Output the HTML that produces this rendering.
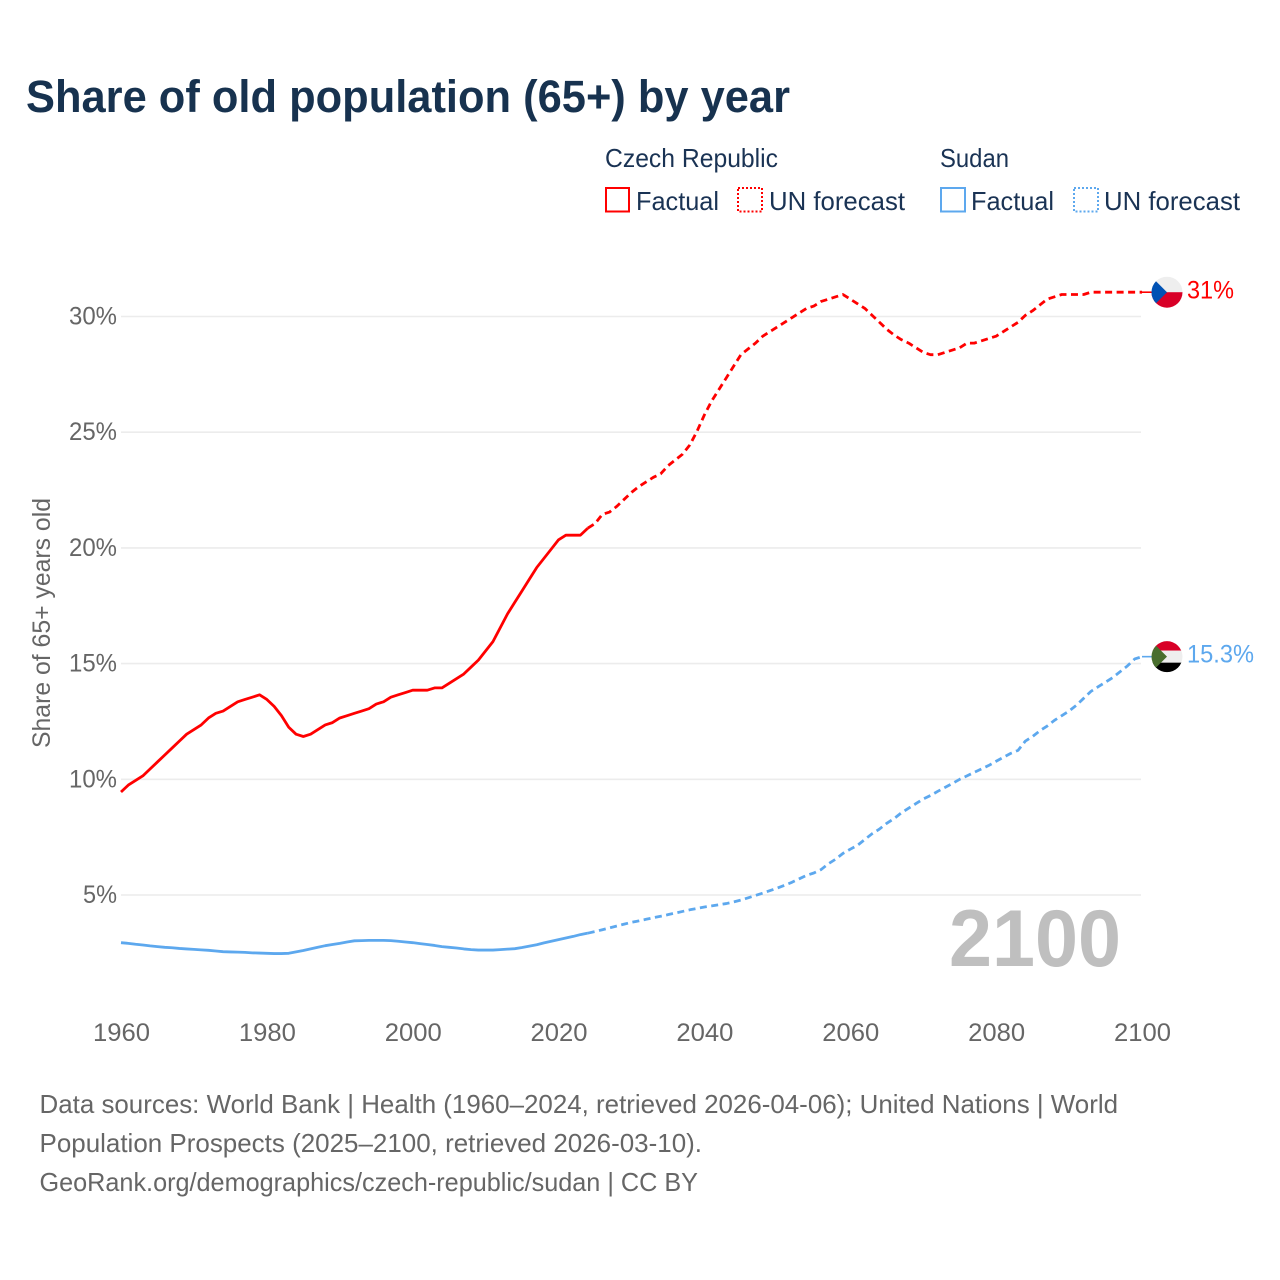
<!DOCTYPE html>
<html lang="en">
<head>
<meta charset="utf-8">
<title>Share of old population (65+) by year</title>
<style>
html,body{margin:0;padding:0;background:#fff;}
svg{display:block;font-family:"Liberation Sans",sans-serif;}
</style>
</head>
<body>
<svg id="chart" width="1280" height="1280" viewBox="0 0 1280 1280" xmlns="http://www.w3.org/2000/svg">
<defs>
<clipPath id="flag-clip-cz"><circle cx="0" cy="0" r="15.5"></circle></clipPath>
<clipPath id="flag-clip-sd"><circle cx="0" cy="0" r="15.5"></circle></clipPath>
</defs>
<rect x="0" y="0" width="1280" height="1280" fill="#ffffff"></rect>
<text x="26" y="112" font-size="45" font-weight="700" fill="#17324f" textLength="764" lengthAdjust="spacingAndGlyphs">Share of old population (65+) by year</text>

<g font-size="26" fill="#1a3354">
<text x="605" y="167" textLength="173" lengthAdjust="spacingAndGlyphs">Czech Republic</text>
<text x="940" y="167" textLength="69" lengthAdjust="spacingAndGlyphs">Sudan</text>
<rect x="606" y="188" width="23" height="23.5" fill="none" stroke="#ff0000" stroke-width="2"></rect>
<text x="636" y="210" textLength="83" lengthAdjust="spacingAndGlyphs">Factual</text>
<rect x="738" y="188" width="24" height="23.5" fill="none" stroke="#ff0000" stroke-width="2" stroke-dasharray="2 2"></rect>
<text x="769" y="210" textLength="136" lengthAdjust="spacingAndGlyphs">UN forecast</text>
<rect x="941" y="188" width="24" height="23.5" fill="none" stroke="#5da8ee" stroke-width="2"></rect>
<text x="971" y="210" textLength="83" lengthAdjust="spacingAndGlyphs">Factual</text>
<rect x="1074" y="188" width="24" height="23.5" fill="none" stroke="#5da8ee" stroke-width="2" stroke-dasharray="2 2"></rect>
<text x="1104" y="210" textLength="136" lengthAdjust="spacingAndGlyphs">UN forecast</text>
</g>

<g id="grid"></g>
<g id="y-ticks"></g>
<g id="x-ticks"></g>
<text transform="translate(50,623) rotate(-90)" text-anchor="middle" font-size="25" fill="#666666" textLength="250" lengthAdjust="spacingAndGlyphs">Share of 65+ years old</text>
<text x="949" y="966" font-size="81" font-weight="700" fill="#bfbfbf" textLength="172" lengthAdjust="spacingAndGlyphs">2100</text>
<g id="series"></g>
<g id="end-markers"></g>

<g font-size="26" fill="#666666">
<text x="39.5" y="1113" textLength="1078.5" lengthAdjust="spacingAndGlyphs">Data sources: World Bank | Health (1960–2024, retrieved 2026-04-06); United Nations | World</text>
<text x="39.5" y="1152" textLength="662.5" lengthAdjust="spacingAndGlyphs">Population Prospects (2025–2100, retrieved 2026-03-10).</text>
<text x="39.5" y="1191" textLength="658.5" lengthAdjust="spacingAndGlyphs">GeoRank.org/demographics/czech-republic/sudan | CC BY</text>
</g>
</svg>
<script>
const factualYears = [1960,1961,1962,1963,1964,1965,1966,1967,1968,1969,1970,1971,1972,1973,1974,1975,1976,1977,1978,1979,1980,1981,1982,1983,1984,1985,1986,1987,1988,1989,1990,1991,1992,1993,1994,1995,1996,1997,1998,1999,2000,2001,2002,2003,2004,2005,2006,2007,2008,2009,2010,2011,2012,2013,2014,2015,2016,2017,2018,2019,2020,2021,2022,2023,2024];
const forecastYears = [2024,2025,2026,2027,2028,2029,2030,2031,2032,2033,2034,2035,2036,2037,2038,2039,2040,2041,2042,2043,2044,2045,2046,2047,2048,2049,2050,2051,2052,2053,2054,2055,2056,2057,2058,2059,2060,2061,2062,2063,2064,2065,2066,2067,2068,2069,2070,2071,2072,2073,2074,2075,2076,2077,2078,2079,2080,2081,2082,2083,2084,2085,2086,2087,2088,2089,2090,2091,2092,2093,2094,2095,2096,2097,2098,2099,2100];
const czechFactual = [9.45,9.75,9.95,10.15,10.45,10.75,11.05,11.35,11.65,11.95,12.15,12.35,12.65,12.85,12.95,13.15,13.35,13.45,13.55,13.65,13.45,13.15,12.75,12.25,11.95,11.85,11.95,12.15,12.35,12.45,12.65,12.75,12.85,12.95,13.05,13.25,13.35,13.55,13.65,13.75,13.85,13.85,13.85,13.95,13.95,14.15,14.35,14.55,14.85,15.15,15.55,15.95,16.55,17.15,17.65,18.15,18.65,19.15,19.55,19.95,20.35,20.55,20.55,20.55,20.85];
const czechForecast = [20.85,21.05,21.45,21.55,21.8,22.1,22.4,22.65,22.85,23.05,23.2,23.55,23.8,24.05,24.45,25.05,25.75,26.35,26.85,27.35,27.85,28.35,28.6,28.85,29.15,29.35,29.55,29.75,29.95,30.15,30.35,30.45,30.65,30.75,30.85,30.95,30.75,30.55,30.35,30.05,29.75,29.45,29.2,29.0,28.85,28.65,28.45,28.35,28.35,28.45,28.55,28.65,28.85,28.85,28.95,29.05,29.15,29.35,29.55,29.75,30.05,30.25,30.5,30.75,30.85,30.95,30.95,30.95,30.95,31.05,31.05,31.05,31.05,31.05,31.05,31.05,31.05];
const sudanFactual = [2.94,2.91,2.87,2.84,2.8,2.77,2.74,2.72,2.69,2.67,2.65,2.63,2.61,2.58,2.55,2.54,2.53,2.52,2.5,2.49,2.48,2.47,2.47,2.48,2.54,2.6,2.67,2.74,2.81,2.86,2.91,2.97,3.02,3.03,3.04,3.04,3.04,3.03,3.0,2.97,2.94,2.9,2.86,2.82,2.77,2.74,2.71,2.67,2.64,2.62,2.62,2.62,2.64,2.66,2.68,2.73,2.79,2.85,2.93,3.0,3.07,3.14,3.21,3.29,3.35];
const sudanForecast = [3.35,3.42,3.5,3.58,3.66,3.74,3.82,3.88,3.95,4.02,4.08,4.15,4.22,4.29,4.36,4.42,4.48,4.53,4.58,4.63,4.7,4.78,4.88,4.98,5.08,5.19,5.3,5.42,5.55,5.7,5.85,5.95,6.1,6.35,6.55,6.8,6.98,7.15,7.4,7.65,7.85,8.1,8.3,8.55,8.75,8.95,9.15,9.3,9.48,9.65,9.82,10.0,10.15,10.3,10.45,10.6,10.78,10.95,11.12,11.25,11.65,11.85,12.1,12.3,12.55,12.75,12.95,13.2,13.5,13.8,14.0,14.2,14.4,14.65,14.9,15.2,15.3];
const yTickValues = [5,10,15,20,25,30];
const yTickLabels = ["5%","10%","15%","20%","25%","30%"];
const xTickValues = [1960,1980,2000,2020,2040,2060,2080,2100];
const xTickLabels = ["1960","1980","2000","2020","2040","2060","2080","2100"];
const endLabelCzech = "31%";
const endLabelSudan = "15.3%";

const NS = "http://www.w3.org/2000/svg";
const RED = "#ff0000";
const BLUE = "#5da8ee";
function xScale(year) { return 121 + (year - 1960) * (1142 - 121) / 140; }
function yScale(value) { return 1010.7 - value * 23.14; }
function svgEl(tag, parent) {
  const el = document.createElementNS(NS, tag);
  parent.appendChild(el);
  return el;
}
function pathFrom(years, values) {
  return values.map(function (v, i) {
    return (i ? "L" : "M") + xScale(years[i]).toFixed(2) + " " + yScale(v).toFixed(2);
  }).join(" ");
}

const gridGroup = document.getElementById("grid");
const yGroup = document.getElementById("y-ticks");
const xGroup = document.getElementById("x-ticks");
const seriesGroup = document.getElementById("series");
const markerGroup = document.getElementById("end-markers");

yTickValues.forEach(function (v, i) {
  const line = svgEl("line", gridGroup);
  
  
  line.setAttribute("x1", 121);
  line.setAttribute("x2", 1141);
  line.setAttribute("y1", yScale(v));
  line.setAttribute("y2", yScale(v));
  line.setAttribute("stroke", "#ececec");
  line.setAttribute("stroke-width", 1.6);
  const label = svgEl("text", yGroup);
  
  
  label.setAttribute("x", 117);
  label.setAttribute("y", yScale(v) + 8);
  label.setAttribute("text-anchor", "end");
  label.setAttribute("font-size", 25);
  label.setAttribute("fill", "#666666");
  label.setAttribute("textLength", yTickLabels[i].length === 2 ? 34 : 48);
  label.setAttribute("lengthAdjust", "spacingAndGlyphs");
  label.textContent = yTickLabels[i];
});

xTickValues.forEach(function (v, i) {
  const label = svgEl("text", xGroup);
  
  
  label.setAttribute("x", xScale(v) + 0.5);
  label.setAttribute("y", 1041);
  label.setAttribute("text-anchor", "middle");
  label.setAttribute("font-size", 25);
  label.setAttribute("fill", "#666666");
  label.setAttribute("textLength", 57);
  label.setAttribute("lengthAdjust", "spacingAndGlyphs");
  label.textContent = xTickLabels[i];
});

function drawLine(name, years, values, color, dashed) {
  const p = svgEl("path", seriesGroup);
  
  
  p.setAttribute("d", pathFrom(years, values));
  p.setAttribute("fill", "none");
  p.setAttribute("stroke", color);
  p.setAttribute("stroke-width", 2.8);
  p.setAttribute("stroke-linejoin", "round");
  if (dashed) p.setAttribute("stroke-dasharray", "7 4.5");
}
drawLine("czech-factual-line", factualYears, czechFactual, RED, false);
drawLine("czech-forecast-line", forecastYears, czechForecast, RED, true);
drawLine("sudan-factual-line", factualYears, sudanFactual, BLUE, false);
drawLine("sudan-forecast-line", forecastYears, sudanForecast, BLUE, true);

function drawLeader(name, value, color) {
  const l = svgEl("line", seriesGroup);
  
  
  l.setAttribute("x1", xScale(2100));
  l.setAttribute("x2", 1153);
  l.setAttribute("y1", yScale(value));
  l.setAttribute("y2", yScale(value));
  l.setAttribute("stroke", color);
  l.setAttribute("stroke-width", 1.6);
}
drawLeader("czech-end-leader", czechForecast[czechForecast.length - 1], RED);
drawLeader("sudan-end-leader", sudanForecast[sudanForecast.length - 1], BLUE);

function shape(parent, tag, attrs) {
  const el = svgEl(tag, parent);
  Object.keys(attrs).forEach(function (k) { el.setAttribute(k, attrs[k]); });
  return el;
}

const czY = yScale(czechForecast[czechForecast.length - 1]);
const czFlag = svgEl("g", markerGroup);


czFlag.setAttribute("transform", "translate(1167," + czY + ")");
const czClip = svgEl("g", czFlag);
czClip.setAttribute("clip-path", "url(#flag-clip-cz)");
shape(czClip, "rect", {x:-16,y:-16,width:32,height:16,fill:"#eeeeee"});
shape(czClip, "rect", {x:-16,y:0,width:32,height:16,fill:"#d80027"});
shape(czClip, "polygon", {points:"-16,-16 0,0 -16,16",fill:"#0052b4"});

const czLabel = svgEl("text", markerGroup);


czLabel.setAttribute("x", 1187);
czLabel.setAttribute("y", czY + 6.5);
czLabel.setAttribute("font-size", 25);
czLabel.setAttribute("fill", RED);
czLabel.setAttribute("textLength", 47);
czLabel.setAttribute("lengthAdjust", "spacingAndGlyphs");
czLabel.textContent = endLabelCzech;

const sdY = yScale(sudanForecast[sudanForecast.length - 1]);
const sdFlag = svgEl("g", markerGroup);


sdFlag.setAttribute("transform", "translate(1167," + sdY + ")");
const sdClip = svgEl("g", sdFlag);
sdClip.setAttribute("clip-path", "url(#flag-clip-sd)");
shape(sdClip, "rect", {x:-16,y:-16,width:32,height:10,fill:"#d80027"});
shape(sdClip, "rect", {x:-16,y:-6,width:32,height:12,fill:"#eeeeee"});
shape(sdClip, "rect", {x:-16,y:6,width:32,height:10,fill:"#000000"});
shape(sdClip, "polygon", {points:"-16,-16 0,0 -16,16",fill:"#496e2d"});

const sdLabel = svgEl("text", markerGroup);


sdLabel.setAttribute("x", 1187);
sdLabel.setAttribute("y", sdY + 6);
sdLabel.setAttribute("font-size", 25);
sdLabel.setAttribute("fill", BLUE);
sdLabel.setAttribute("textLength", 67);
sdLabel.setAttribute("lengthAdjust", "spacingAndGlyphs");
sdLabel.textContent = endLabelSudan;
</script>
</body>
</html>
